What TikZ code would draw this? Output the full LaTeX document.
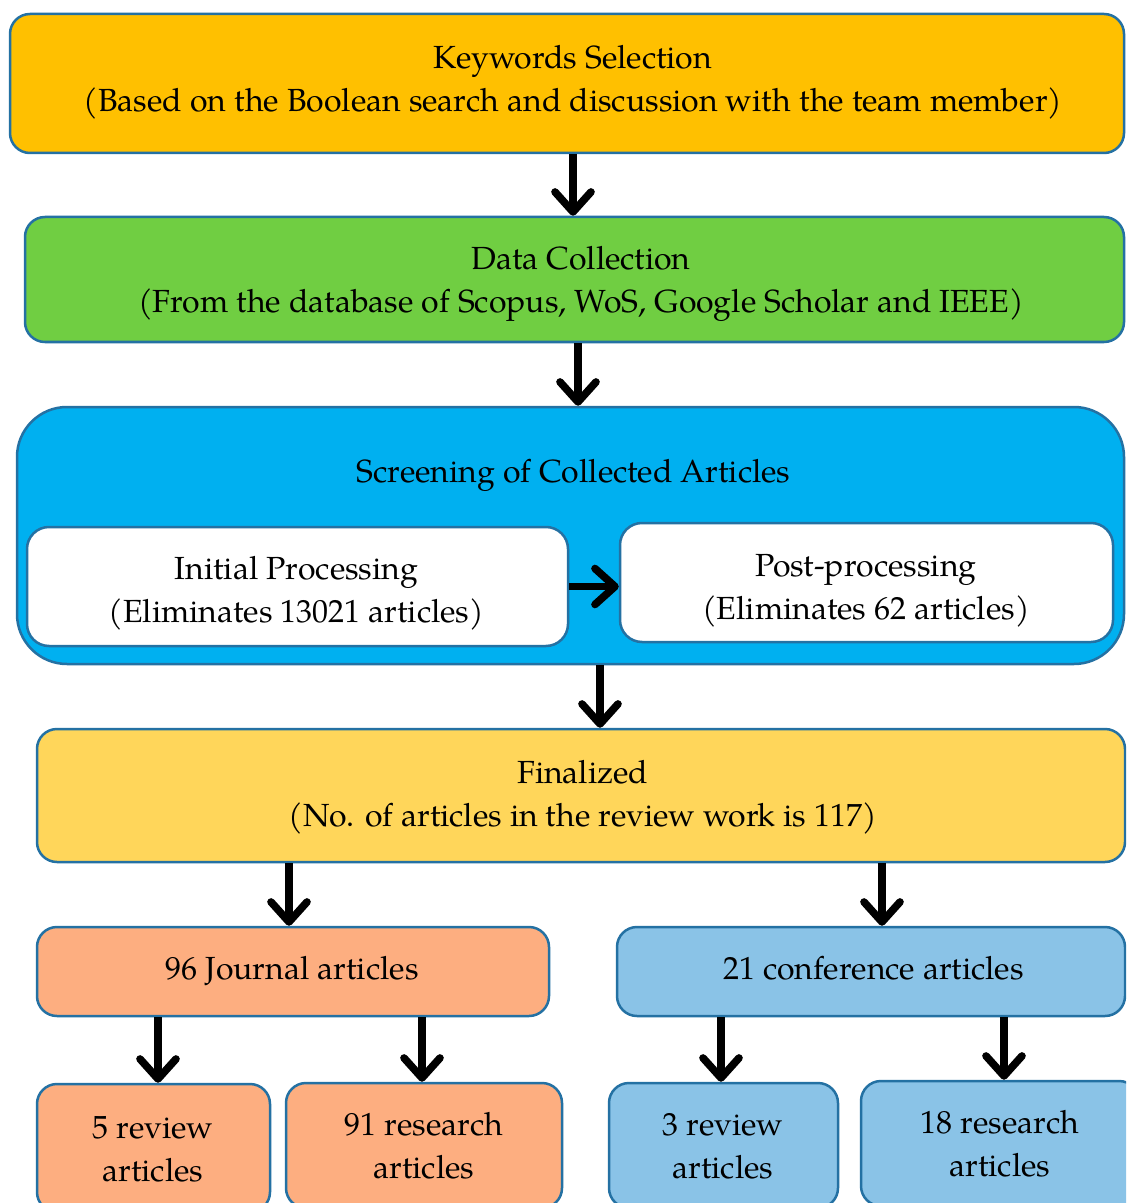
\documentclass[tikz,border=0pt]{standalone}
\usepackage{fontspec}
\setmainfont{TeX Gyre Pagella}
\usetikzlibrary{arrows.meta}

\definecolor{edge}{RGB}{36,113,163}
\definecolor{kwfill}{RGB}{255,192,0}
\definecolor{dcfill}{RGB}{112,206,66}
\definecolor{scfill}{RGB}{0,176,240}
\definecolor{fnfill}{RGB}{255,214,90}
\definecolor{jrfill}{RGB}{253,174,128}
\definecolor{cffill}{RGB}{138,195,231}

\begin{document}
\begin{tikzpicture}[x=0.5pt,y=-0.5pt,
  txt/.style={font=\fontsize{16}{21.5}\selectfont, align=center, inner sep=0pt, yshift=-1pt},
  box/.style={draw=edge, line width=1.25pt, rounded corners=10pt, inner sep=0pt},
  arr/.style={line width=3.8pt, -{Straight Barb[length=10pt,width=18pt,round]}},
]
% page frame
\clip (0,0) rectangle (1126,1203);
\fill[white] (0,0) rectangle (1126,1203);

% boxes
\node[box, fill=kwfill, minimum width=557pt, minimum height=69.5pt] (kw) at (567,83.5) {};
\node[box, fill=dcfill, minimum width=549.5pt, minimum height=62.5pt] (dc) at (574.5,279.5) {};
\node[box, fill=scfill, rounded corners=25pt, minimum width=553.5pt, minimum height=128.5pt] (sc) at (570.5,535.5) {};
\node[box, fill=white, rounded corners=11pt, minimum width=270.5pt, minimum height=59.5pt] (ini) at (297.5,586.5) {};
\node[box, fill=white, rounded corners=11pt, minimum width=246.5pt, minimum height=59.5pt] (post) at (866.5,582.5) {};
\node[box, fill=fnfill, minimum width=544pt, minimum height=66.5pt] (fin) at (581,795.5) {};
\node[box, fill=jrfill, minimum width=256pt, minimum height=44.5pt] (jour) at (293,971.5) {};
\node[box, fill=cffill, minimum width=254pt, minimum height=44.5pt] (conf) at (871,971.5) {};
\node[box, fill=jrfill, minimum width=116.5pt, minimum height=64pt] (rev5) at (153.5,1148) {};
\node[box, fill=jrfill, minimum width=138pt, minimum height=62.5pt] (res91) at (424,1145.5) {};
\node[box, fill=cffill, minimum width=114.5pt, minimum height=62.5pt] (rev3) at (723.5,1145.5) {};
\node[box, fill=cffill, minimum width=139pt, minimum height=62.5pt] (res18) at (1000,1143.5) {};

% texts
\node[txt] (kwt) at (573,79.5)
  {\strut Keywords Selection\\\strut(Based on the Boolean search and discussion with the team member)};
\node[txt] (dct) at (581,280.5)
  {\strut Data Collection\\\strut(From the database of Scopus, WoS, Google Scholar and IEEE)};
\node[txt] (sct) at (573.5,472) {\strut Screening of Collected Articles};
\node[txt] (init) at (296.5,590) {\strut Initial Processing\\\strut(Eliminates 13021 articles)};
\node[txt] (postt) at (866,587) {\strut Post-processing\\\strut(Eliminates 62 articles)};
\node[txt] (fint) at (583,794.5) {\strut Finalized\\\strut(No. of articles in the review work is 117)};
\node[txt] (jourt) at (292,969) {\strut 96 Journal articles};
\node[txt] (conft) at (873.5,969) {\strut 21 conference articles};
\node[txt] (rev5t) at (153,1149.5) {\strut 5 review\\\strut articles};
\node[txt] (res91t) at (424,1146.5) {\strut 91 research\\\strut articles};
\node[txt] (rev3t) at (723,1146.5) {\strut 3 review\\\strut articles};
\node[txt] (res18t) at (1000,1144.5) {\strut 18 research\\\strut articles};

% connectors
\draw[arr] ([xshift=3pt]kw.south) -- ([xshift=3pt]kw.south |- dc.north);
\draw[arr] ([xshift=1.75pt]dc.south) -- ([xshift=1.75pt]dc.south |- sc.north);
\draw[arr] (ini.east) -- (ini.east -| post.west);
\draw[arr] ([xshift=14.75pt]sc.south) -- ([xshift=14.75pt]sc.south |- fin.north);
\draw[arr] ([xshift=-2pt]jour.north |- fin.south) -- ([xshift=-2pt]jour.north);
\draw[arr] ([xshift=5.5pt]conf.north |- fin.south) -- ([xshift=5.5pt]conf.north);
\draw[arr] ([xshift=2.25pt]rev5.north |- jour.south) -- ([xshift=2.25pt]rev5.north);
\draw[arr] ([xshift=-1pt]res91.north |- jour.south) -- ([xshift=-1pt]res91.north);
\draw[arr] ([xshift=-1.25pt]rev3.north |- conf.south) -- ([xshift=-1.25pt]rev3.north);
\draw[arr] ([xshift=2pt]res18.north |- conf.south) -- ([xshift=2pt]res18.north);
\end{tikzpicture}
\end{document}
